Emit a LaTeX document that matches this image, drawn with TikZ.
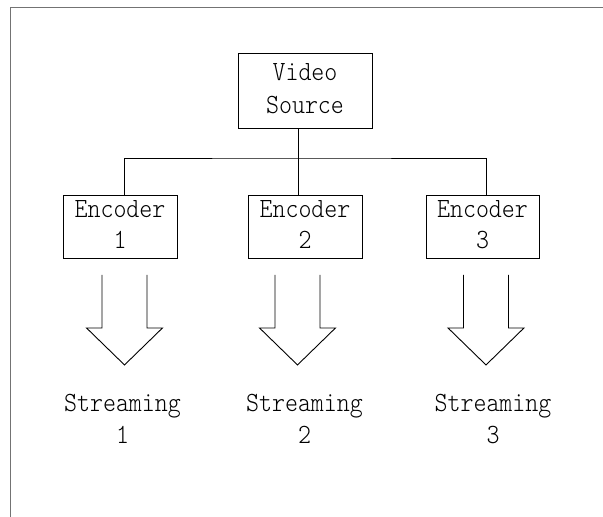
\documentclass[tikz,border=0pt]{standalone}
\usepackage{fontspec}
\newfontfamily\lblfont{lmmonolt10-regular}[Extension=.otf, FakeStretch=0.89]
\begin{document}
\begin{tikzpicture}[x=1pt, y=-1pt,
  lbl/.style={font=\lblfont\fontsize{27.8}{32}\selectfont, align=center, inner sep=0pt},
  box/.style={draw, line width=0.9pt, inner sep=0pt, lbl},
  wire/.style={line width=0.9pt},
  frameline/.style={draw=black!55, line width=1.6pt},
  blockarrow/.pic={\draw[line width=0.9pt] (-22.5,0) -- (-22.5,53) -- (-38,53) -- (0,90) -- (38,53) -- (22.5,53) -- (22.5,0);}
]
\useasboundingbox (0,0) rectangle (603,517);
% open page frame: left and top edges
\draw[frameline] (10.5,517) -- (10.5,7.5) -- (603,7.5);

% source and encoders
\node[box, minimum width=134pt, minimum height=75pt] (vs) at (305,90.5) {\raisebox{2pt}{\begin{tabular}{@{}c@{}}Video\\[1pt]Source\end{tabular}}};
\node[box, minimum width=114pt, minimum height=60pt] (enc1) at (120,227) {\raisebox{-5pt}{\begin{tabular}{@{}c@{}}Encoder\\[-1pt]1\end{tabular}}};
\node[box, minimum width=114pt, minimum height=60pt] (enc2) at (305,227) {\raisebox{-5pt}{\begin{tabular}{@{}c@{}}Encoder\\[-1pt]2\end{tabular}}};
\node[box, minimum width=113pt, minimum height=60pt] (enc3) at (482.5,227) {\raisebox{-5pt}{\begin{tabular}{@{}c@{}}Encoder\\[-1pt]3\end{tabular}}};

% distribution bus
\coordinate (hub) at ([xshift=-7pt]vs.south |- 0,158);
\draw[wire] ([xshift=-7pt]vs.south) -- ([xshift=-7pt]enc2.north);
\draw[wire] ([xshift=4pt]enc1.north) |- (hub) -| ([xshift=3.5pt]enc3.north);

% output streams
\pic at ([xshift=4.5pt, yshift=-16pt]enc1.south) {blockarrow};
\pic at ([xshift=-7.5pt, yshift=-16pt]enc2.south) {blockarrow};
\pic at ([xshift=3.5pt, yshift=-16pt]enc3.south) {blockarrow};

\node[lbl] (s1) at (122.5,419) {Streaming\\1};
\node[lbl] (s2) at (304.5,419) {Streaming\\2};
\node[lbl] (s3) at (493,419) {Streaming\\3};
\end{tikzpicture}
\end{document}
